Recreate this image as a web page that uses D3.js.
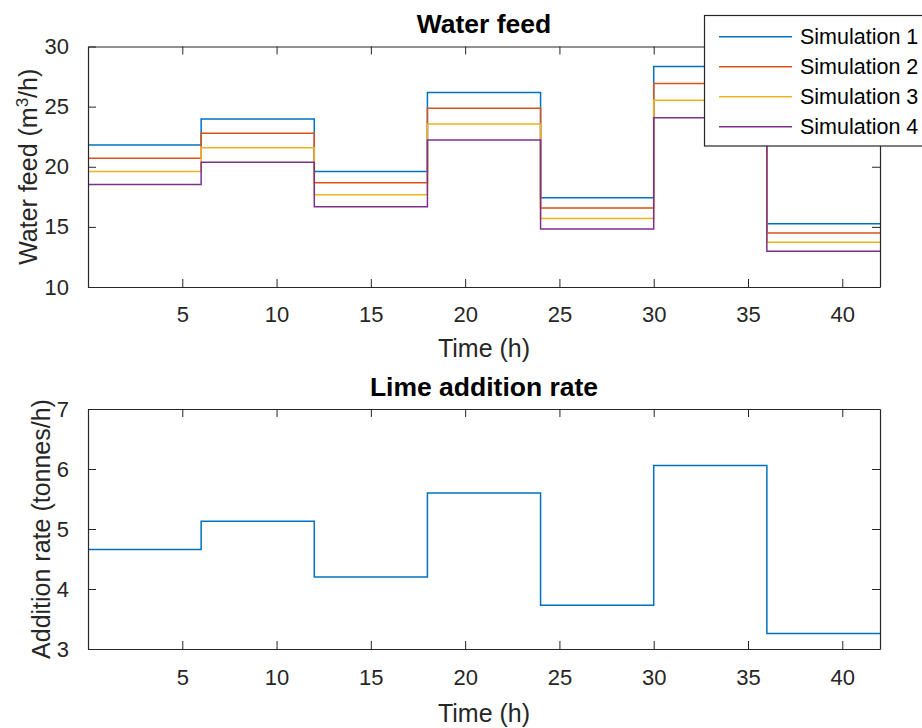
<!DOCTYPE html>
<html>
<head>
<meta charset="utf-8">
<script src="https://cdn.jsdelivr.net/npm/d3@7"></script>
<style>
  html, body { margin: 0; padding: 0; background: #fff; }
  svg { display: block; font-family: "Liberation Sans", Arial, Helvetica, sans-serif; }
</style>
</head>
<body>
<svg id="chart" width="922" height="728"></svg>
<script>
// Step change times (h): each value holds from its time until the next one
const time = [0, 6, 12, 18, 24, 30, 36, 42];

// Water feed (m3/h) for each simulation
const sim1 = [21.8, 23.98, 19.6, 26.17, 17.42, 28.33, 15.25];
const sim2 = [20.7, 22.78, 18.67, 24.86, 16.58, 26.92, 14.5];
const sim3 = [19.6, 21.58, 17.67, 23.56, 15.69, 25.53, 13.72];
const sim4 = [18.53, 20.37, 16.67, 22.22, 14.83, 24.08, 12.97];
const seriesNames = ["Simulation 1", "Simulation 2", "Simulation 3", "Simulation 4"];
const colors = ["#0072BD", "#D95319", "#EDB120", "#7E2F8E"];

// Lime addition rate (tonnes/h)
const lime = [4.66, 5.13, 4.2, 5.6, 3.73, 6.06, 3.26];

const xTicks = [5, 10, 15, 20, 25, 30, 35, 40];
const waterTicks = [10, 15, 20, 25, 30];
const limeTicks = [3, 4, 5, 6, 7];

const svg = d3.select("#chart");
const ink = "#262626";
const fmt = d3.format("d");

// step points: repeat the last value at the final time
function stepPoints(vals) {
  const pts = vals.map((v, i) => [time[i], v]);
  pts.push([time[time.length - 1], vals[vals.length - 1]]);
  return pts;
}

function drawPanel(opts) {
  const { top, bottom, yDomain, yTicks, title, titleY, yLabel, yLabelX, series, clipId, xLabelY, xTickY } = opts;
  const left = 88, right = 880;
  const x = d3.scaleLinear().domain([0, 42]).range([left, right]);
  const y = d3.scaleLinear().domain(yDomain).range([bottom, top]);

  const g = svg.append("g");

  svg.append("clipPath").attr("id", clipId)
    .append("rect").attr("x", left).attr("y", top)
    .attr("width", right - left).attr("height", bottom - top);

  // data lines
  const line = d3.line().x(d => x(d[0])).y(d => y(d[1])).curve(d3.curveStepAfter);
  const lines = g.append("g").attr("clip-path", `url(#${clipId})`);
  series.forEach((s, i) => {
    lines.append("path")
      .attr("d", line(stepPoints(s)))
      .attr("fill", "none")
      .attr("stroke", colors[i])
      .attr("stroke-width", 1.5);
  });

  // axes with inward ticks on all four sides
  const styleAxis = sel => {
    sel.select(".domain").attr("stroke", ink).attr("stroke-width", 1.2).attr("fill", "none");
    sel.selectAll(".tick line").attr("stroke", ink).attr("stroke-width", 1);
    sel.selectAll(".tick text").attr("fill", ink).attr("font-size", 22);
  };

  g.append("g").attr("transform", `translate(0,${bottom})`)
    .call(d3.axisBottom(x).tickValues(xTicks).tickSize(-8).tickSizeOuter(0).tickFormat(fmt))
    .call(styleAxis)
    .call(s => s.selectAll(".tick text").attr("dy", "0.71em").attr("y", xTickY - bottom));

  g.append("g").attr("transform", `translate(0,${top})`)
    .call(d3.axisTop(x).tickValues(xTicks).tickSize(-8).tickSizeOuter(0).tickFormat(""))
    .call(styleAxis);

  g.append("g").attr("transform", `translate(${left},0)`)
    .call(d3.axisLeft(y).tickValues(yTicks).tickSize(-8).tickSizeOuter(0).tickPadding(19).tickFormat(fmt))
    .call(styleAxis);

  g.append("g").attr("transform", `translate(${right},0)`)
    .call(d3.axisRight(y).tickValues(yTicks).tickSize(-8).tickSizeOuter(0).tickFormat(""))
    .call(styleAxis);

  // title
  g.append("text")
    .attr("x", (left + right) / 2).attr("y", titleY)
    .attr("text-anchor", "middle")
    .attr("font-size", 26.5).attr("font-weight", "bold").attr("fill", "#000")
    .text(title);

  // x label
  g.append("text")
    .attr("x", (left + right) / 2).attr("y", xLabelY)
    .attr("text-anchor", "middle")
    .attr("font-size", 25).attr("fill", ink)
    .text("Time (h)");

  // y label
  const yl = g.append("text")
    .attr("transform", `translate(${yLabelX},${(top + bottom) / 2}) rotate(-90)`)
    .attr("text-anchor", "middle")
    .attr("font-size", 25).attr("fill", ink);
  yLabel(yl);

  return { x, y };
}

drawPanel({
  top: 46.5, bottom: 287, yDomain: [10, 30], yTicks: waterTicks,
  title: "Water feed", titleY: 33,
  yLabelX: 37,
  yLabel: t => {
    t.append("tspan").text("Water feed (m");
    t.append("tspan").attr("dy", -9).attr("font-size", 17).text("3");
    t.append("tspan").attr("dy", 9).text("/h)");
  },
  series: [sim1, sim2, sim3, sim4], clipId: "clipTop",
  xTickY: 306, xLabelY: 357
});

drawPanel({
  top: 409, bottom: 649, yDomain: [3, 7], yTicks: limeTicks,
  title: "Lime addition rate", titleY: 396,
  yLabelX: 50,
  yLabel: t => t.text("Addition rate (tonnes/h)"),
  series: [lime], clipId: "clipBottom",
  xTickY: 669, xLabelY: 722
});

// legend for the water feed panel
const legend = svg.append("g");
legend.append("rect")
  .attr("x", 704.5).attr("y", 15.5).attr("width", 230).attr("height", 130.5)
  .attr("fill", "#fff").attr("stroke", ink).attr("stroke-width", 1.2);
seriesNames.forEach((name, i) => {
  const cy = 36.7 + i * 30;
  legend.append("line")
    .attr("x1", 719).attr("x2", 792).attr("y1", cy).attr("y2", cy)
    .attr("stroke", colors[i]).attr("stroke-width", 1.5);
  legend.append("text")
    .attr("x", 800).attr("y", cy).attr("dy", "0.35em")
    .attr("font-size", 21.5).attr("fill", "#000")
    .text(name);
});
</script>
</body>
</html>
